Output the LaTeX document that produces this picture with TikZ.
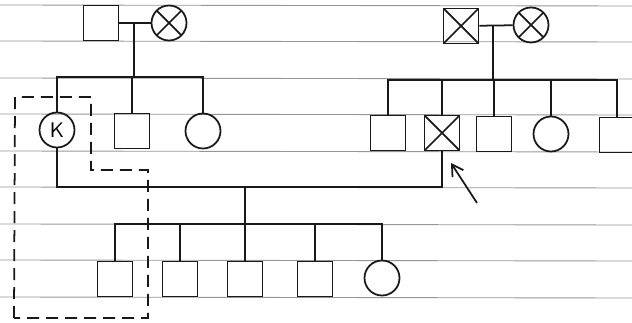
\documentclass[tikz,border=0pt]{standalone}
\usetikzlibrary{arrows.meta,positioning,calc}
\definecolor{ink}{RGB}{25,25,25}
\definecolor{rule}{RGB}{150,150,150}
\tikzset{
  >={Straight Barb[length=2.2mm,width=2.6mm]},
  male/.style={draw=ink,line width=1pt,rectangle,minimum size=7mm,inner sep=0pt},
  female/.style={draw=ink,line width=1pt,circle,minimum size=7mm,inner sep=0pt},
  dead/.style={path picture={
    \draw[ink,line width=1pt] (path picture bounding box.south west) -- (path picture bounding box.north east)
      (path picture bounding box.north west) -- (path picture bounding box.south east);}},
  link/.style={draw=ink,line width=1pt},
  ruled/.style={draw=rule,line width=0.5pt},
}

\begin{document}
\begin{tikzpicture}[x=0.02cm,y=-0.02cm]
  \useasboundingbox (0,0) rectangle (632,323);
  \clip (0,0) rectangle (632,323);
  % paper lines
  \foreach \y in {5,41,78,114,151,187,224,260,297}
    \draw[ruled] (0,\y) -- (632,\y+1);

  % generation I, left
  \node[male] (gf) at (101,23) {};
  \node[female,dead] (gm) at (169,23) {};
  \coordinate (m1) at (134,23);
  \coordinate (sib1) at (134,77);
  \draw[link] (gf) -- (gm);
  \draw[link] (m1) -- (sib1);

  % generation II, left
  \node[female,font=\large\sffamily] (k) at (57,130) {K};
  \node[male] (s1) at (132,131) {};
  \node[female] (d1) at (203,131) {};
  \draw[link] (k.north) |- (sib1) -| (d1.north);
  \draw[link] (s1.north) -- (s1.north |- sib1);

  % generation I, right
  \node[male,dead] (rgf) at (461,26) {};
  \node[female,dead] (rgm) at (531,25) {};
  \coordinate (m2) at (493,26);
  \coordinate (sib2) at (493,80);
  \draw[link] (rgf) -- (rgm);
  \draw[link] (m2) -- (sib2);

  % generation II, right
  \node[male] (r1) at (388,133) {};
  \node[male,dead] (pb) at (442,133) {};
  \node[male] (r3) at (494,134) {};
  \node[female] (r4) at (551,134) {};
  \node[male] (r5) at (617,135) {};
  \draw[link] (r1.north) |- (sib2) -| (r5.north);
  \foreach \c in {pb,r3,r4}
    \draw[link] (\c.north) -- (\c.north |- sib2);

  % marriage and generation III
  \coordinate (m3) at (245,187);
  \coordinate (sib3) at (245,224);
  \draw[link] (k.south) |- (m3) -| (pb.south);
  \draw[link] (m3) -- (sib3);
  \node[male] (c1) at (115,279) {};
  \node[male] (c2) at (180,279) {};
  \node[male] (c3) at (245,279) {};
  \node[male] (c4) at (315,279) {};
  \node[female] (c5) at (382,278) {};
  \draw[link] (c1.north) |- (sib3) -| (c5.north);
  \foreach \c in {c2,c3,c4}
    \draw[link] (\c.north) -- (\c.north |- sib3);

  % proband arrow
  \coordinate (tail) at (477,203);
  \coordinate (tip) at (451,163);
  \draw[link,->] (tail) -- (tip);

  % dashed outline round K
  \draw[link,dash pattern=on 2.4mm off 1.4mm] (14,318) -- (15,97) -- (91,97) -- (91,170)
    -- (148,170) -- (148,318) -- cycle;
\end{tikzpicture}
\end{document}
